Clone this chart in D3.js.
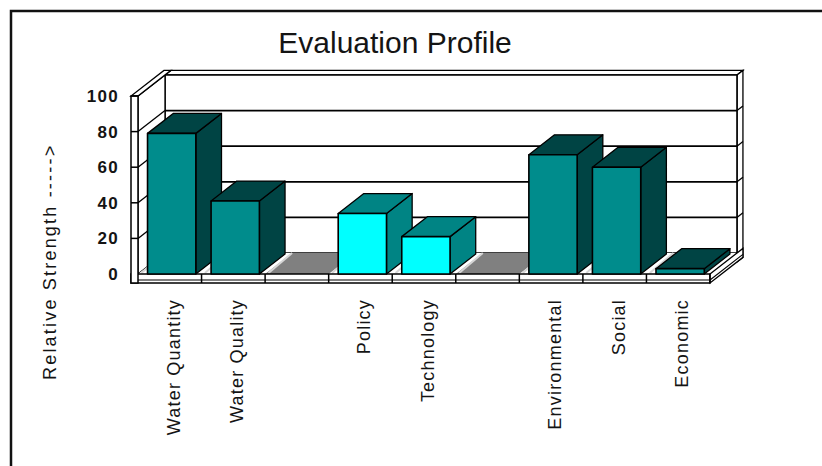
<!DOCTYPE html>
<html>
<head>
<meta charset="utf-8">
<script src="https://cdn.jsdelivr.net/npm/d3@7"></script>
<style>
  body { margin: 0; background: #fff; }
  text { font-family: "Liberation Sans", Arial, sans-serif; fill: #141414; }
</style>
</head>
<body>
<svg id="chart" width="822" height="466"></svg>
<script>
// Evaluation profile data: empty strings mark blank spacer slots on the floor.
const categories = ["Water Quantity", "Water Quality", "", "Policy", "Technology", "", "Environmental", "Social", "Economic"];
const values = [79, 41, null, 34, 21, null, 67, 60, 3];
const groups = ["resource", "resource", null, "capacity", "capacity", null, "impact", "impact", "impact"];
const yTicks = [0, 20, 40, 60, 80, 100];
const title = "Evaluation Profile";
const yTitle = "Relative Strength ----->";

const palette = {
  resource: { front: "#008c8c", side: "#004444", top: "#004444" },
  capacity: { front: "#00ffff", side: "#008484", top: "#008484" },
  impact:   { front: "#008c8c", side: "#004444", top: "#004444" }
};

const svg = d3.select("#chart");
svg.append("rect").attr("width", 822).attr("height", 466).attr("fill", "#fff");

// outer frame
svg.append("rect").attr("x", 11).attr("y", 11).attr("width", 900).attr("height", 600)
  .attr("fill", "none").attr("stroke", "#111").attr("stroke-width", 2.5);

// scales on the front plane
const x = d3.scaleBand().domain(d3.range(categories.length)).range([138, 710]);
const y = d3.scaleLinear().domain([0, 100]).range([274, 96]);
const bw = x.bandwidth();

// oblique depth: z = 0 front, z = 1 back wall
const DX = 27, DY = 21;
const P = (px, py, z) => [px + DX * z, py - DY * z];
const poly = (pts) => "M" + pts.map(p => p.join(",")).join("L") + "Z";

const X0 = x.range()[0], X1 = x.range()[1];
const Y0 = y(0), Y100 = y(100);
const floorDepth = 9, wallT = 7, backT = 1.22;
const stroke = "#000";

const g = svg.append("g");

// back wall slab: top and right faces
g.append("path").attr("d", poly([P(X0, Y100, 1), P(X1, Y100, 1), P(X1, Y100, backT), P(X0, Y100, backT)]))
  .attr("fill", "#fff").attr("stroke", stroke).attr("stroke-width", 1.3);
g.append("path").attr("d", poly([P(X1, Y100, 1), P(X1, Y100, backT), P(X1, Y0 + floorDepth, backT), P(X1, Y0 + floorDepth, 1)]))
  .attr("fill", "#fff").attr("stroke", stroke).attr("stroke-width", 1.3);

// back wall inner face
g.append("path").attr("d", poly([P(X0, Y100, 1), P(X1, Y100, 1), P(X1, Y0, 1), P(X0, Y0, 1)]))
  .attr("fill", "#fff").attr("stroke", stroke).attr("stroke-width", 1.6);

// left wall inner face
g.append("path").attr("d", poly([P(X0, Y100, 0), P(X0, Y100, 1), P(X0, Y0, 1), P(X0, Y0, 0)]))
  .attr("fill", "#fff").attr("stroke", stroke).attr("stroke-width", 1.3);

// gridlines on the walls
const grid = yTicks.filter(v => v > 0 && v < 100);
grid.forEach(v => {
  const yy = y(v);
  g.append("path").attr("d", "M" + P(X0, yy, 1) + "L" + P(X1, yy, 1))
    .attr("stroke", stroke).attr("stroke-width", 1.8).attr("fill", "none");
  g.append("path").attr("d", "M" + P(X0, yy, 0) + "L" + P(X0, yy, 1))
    .attr("stroke", stroke).attr("stroke-width", 1.3).attr("fill", "none");
  g.append("path").attr("d", "M" + P(X1, yy, 1) + "L" + P(X1, yy, backT))
    .attr("stroke", stroke).attr("stroke-width", 1.3).attr("fill", "none");
});

// floor top
g.append("path").attr("d", poly([P(X0, Y0, 0), P(X1, Y0, 0), P(X1, Y0, 1), P(X0, Y0, 1)]))
  .attr("fill", "#fff").attr("stroke", "none");

// empty slots show the grey floor
categories.forEach((c, i) => {
  if (values[i] !== null) return;
  const a = x(i), b = x(i) + bw;
  g.append("path").attr("d", poly([P(a, Y0, 0), P(b, Y0, 0), P(b, Y0, 1), P(a, Y0, 1)]))
    .attr("fill", "#808080");
});

// floor division lines
d3.range(categories.length).forEach(i => {
  const a = x(i);
  g.append("path").attr("d", "M" + P(a + 2, Y0, 0.05) + "L" + P(a, Y0, 1))
    .attr("stroke", "#d6d6d6").attr("stroke-width", 2).attr("fill", "none");
});

// floor slab front and right faces
g.append("rect").attr("x", X0 - wallT).attr("y", Y0).attr("width", X1 - X0 + wallT).attr("height", floorDepth)
  .attr("fill", "#fff").attr("stroke", stroke).attr("stroke-width", 1.5);
g.append("path").attr("d", "M" + (X0 - wallT + 3) + "," + (Y0 + 6) + "L" + X1 + "," + (Y0 + 6))
  .attr("stroke", stroke).attr("stroke-width", 1.2);
g.append("path").attr("d", poly([P(X1, Y0, 0), P(X1, Y0, backT), P(X1, Y0 + floorDepth, backT), P(X1, Y0 + floorDepth, 0)]))
  .attr("fill", "#fff").attr("stroke", stroke).attr("stroke-width", 1.3);
g.append("path").attr("d", "M" + P(X1, Y0 + 6, 0) + "L" + P(X1, Y0 + 6, backT))
  .attr("stroke", stroke).attr("stroke-width", 1.1);

// category ticks on the floor front
d3.range(1, categories.length + 1).forEach(i => {
  const a = i < categories.length ? x(i) : X1;
  g.append("line").attr("x1", a).attr("x2", a).attr("y1", Y0).attr("y2", Y0 + floorDepth)
    .attr("stroke", stroke).attr("stroke-width", 1.5);
});

// bars, drawn left to right so nearer faces overlap
const zb = 0.95;
categories.forEach((c, i) => {
  const v = values[i];
  if (v === null) return;
  const col = palette[groups[i]];
  const a = x(i) + bw * 0.15, b = a + bw * 0.76;
  const yv = y(v);
  const bar = g.append("g");
  bar.append("path").attr("d", poly([P(b, yv, 0), P(b, yv, zb), P(b, Y0, zb), P(b, Y0, 0)]))
    .attr("fill", col.side).attr("stroke", stroke).attr("stroke-width", 1.3).attr("stroke-linejoin", "round");
  bar.append("path").attr("d", poly([P(a, yv, 0), P(b, yv, 0), P(b, yv, zb), P(a, yv, zb)]))
    .attr("fill", col.top).attr("stroke", stroke).attr("stroke-width", 1.3).attr("stroke-linejoin", "round");
  bar.append("path").attr("d", poly([P(a, yv, 0), P(b, yv, 0), P(b, Y0, 0), P(a, Y0, 0)]))
    .attr("fill", col.front).attr("stroke", stroke).attr("stroke-width", 1.6).attr("stroke-linejoin", "round");
});

// left wall slab: top and front faces with value ticks
g.append("path").attr("d", poly([P(X0 - wallT, Y100, 0), P(X0, Y100, 0), P(X0, Y100, backT), P(X0 - wallT, Y100, backT)]))
  .attr("fill", "#fff").attr("stroke", stroke).attr("stroke-width", 1.3);
g.append("rect").attr("x", X0 - wallT).attr("y", Y100).attr("width", wallT).attr("height", Y0 + floorDepth - Y100)
  .attr("fill", "#fff").attr("stroke", stroke).attr("stroke-width", 1.5);
yTicks.filter(v => v > 0).forEach(v => {
  g.append("line").attr("x1", X0 - wallT).attr("x2", X0).attr("y1", y(v)).attr("y2", y(v))
    .attr("stroke", stroke).attr("stroke-width", 1.5);
});

// value labels
svg.append("g").selectAll("text").data(yTicks).join("text")
  .attr("x", 119).attr("y", d => y(d) + 6)
  .attr("text-anchor", "end")
  .attr("font-size", 17).attr("font-weight", "bold").attr("letter-spacing", 1.3)
  .text(d => d);

// category labels, rotated
svg.append("g").selectAll("text").data(categories.map((c, i) => ({ c, i })).filter(d => d.c))
  .join("text")
  .attr("transform", d => `translate(${x(d.i) + bw / 2 + 10},299) rotate(-90)`)
  .attr("text-anchor", "end")
  .attr("font-size", 18).attr("letter-spacing", 1.2)
  .text(d => d.c);

// axis title
svg.append("text")
  .attr("transform", "translate(56,380) rotate(-90)")
  .attr("text-anchor", "start")
  .attr("font-size", 18).attr("letter-spacing", 2.2)
  .text(yTitle);

// chart title
svg.append("text").attr("x", 395).attr("y", 53).attr("text-anchor", "middle")
  .attr("font-size", 30).text(title);
</script>
</body>
</html>
